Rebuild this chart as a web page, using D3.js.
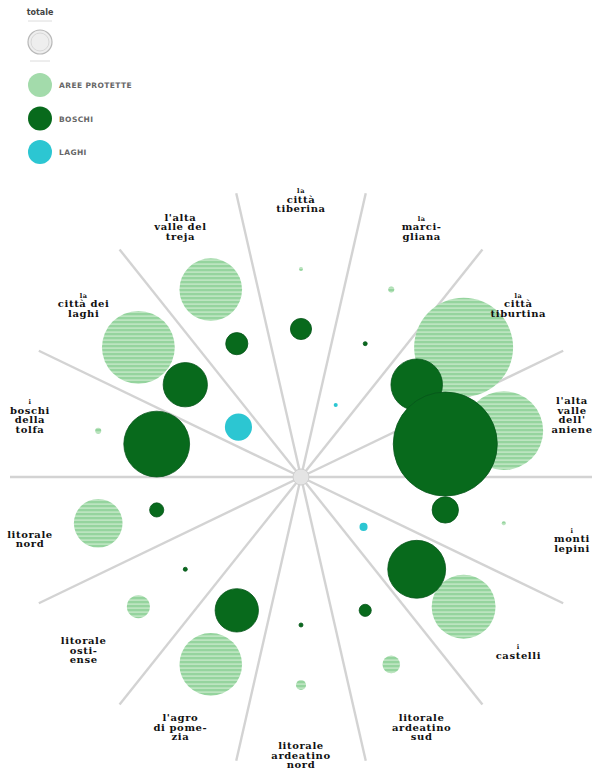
<!DOCTYPE html>
<html>
<head>
<meta charset="utf-8">
<script src="https://cdn.jsdelivr.net/npm/d3@7"></script>
<style>
  body { margin: 0; background: #fff; }
  svg { display: block; }
</style>
</head>
<body>
<svg id="chart"></svg>
<script>
// zones of the Rome metropolitan area, clockwise from the top
const zones = [
    "la città tiberina", "la marcigliana", "la città tiburtina", "l'alta valle dell'aniene",
    "i monti lepini", "i castelli", "litorale ardeatino sud", "litorale ardeatino nord",
    "l'agro di pomezia", "litorale ostiense", "litorale nord", "i boschi della tolfa",
    "la città dei laghi", "l'alta valle del treja"
];
// label text broken in lines as in the print
const zoneLabels = [
    ["la", "città", "tiberina"], ["la", "marci-", "gliana"], ["la", "città", "tiburtina"],
    ["l'alta", "valle", "dell'", "aniene"], ["i", "monti", "lepini"], ["i", "castelli"],
    ["litorale", "ardeatino", "sud"], ["litorale", "ardeatino", "nord"], ["l'agro", "di pome-", "zia"],
    ["litorale", "osti-", "ense"], ["litorale", "nord"], ["i", "boschi", "della", "tolfa"],
    ["la", "città dei", "laghi"], ["l'alta", "valle del", "treja"]
];
// surfaces (hectares), same order as zones
const areeProtette = [40, 90, 24000, 15200, 40, 10000, 760, 250, 9600, 1300, 5800, 90, 13000, 9600];
const boschi = [1100, 40, 6500, 26500, 1700, 8200, 360, 40, 4600, 40, 490, 10600, 4800, 1200];
const laghi = [0, 40, 0, 0, 0, 160, 0, 0, 0, 0, 0, 0, 1800, 0];

const types = ["aree protette", "boschi", "laghi"];
const legendLabels = ["AREE PROTETTE", "BOSCHI", "LAGHI"];

const width = 610;
const height = 769;
const cx = 301;
const cy = 477;

const svg = d3.select("#chart")
    .attr("width", width)
    .attr("height", height);

// stripes for the protected areas
const pattern = svg.append("defs").append("pattern")
    .attr("id", "stripes")
    .attr("patternUnits", "userSpaceOnUse")
    .attr("width", 8)
    .attr("height", 4);
pattern.append("rect").attr("width", 8).attr("height", 4).attr("fill", "#95d49e");
pattern.append("rect").attr("y", 2.4).attr("width", 8).attr("height", 1.4).attr("fill", "#c6e9c8");

const fillColor = d3.scaleOrdinal()
    .domain(types)
    .range(["url(#stripes)", "#086a1c", "#2cc6d2"]);
const legendColor = d3.scaleOrdinal()
    .domain(types)
    .range(["#a3dbab", "#086a1c", "#2cc6d2"]);

// angular scale: one band per zone, band centred on its zone
const step = 2 * Math.PI / zones.length;
const angle = d3.scaleBand()
    .domain(zones)
    .range([-step / 2, 2 * Math.PI - step / 2]);
// ring of each surface type
const ring = d3.scaleOrdinal()
    .domain(["laghi", "boschi", "aree protette"])
    .range([80, 148, 208]);

const allValues = areeProtette.concat(boschi, laghi);
const rscale = d3.scaleSqrt()
    .domain([0, d3.max(allValues)])
    .range([0, 52]);

const g = svg.append("g").attr("transform", `translate(${cx},${cy})`);

// radial separators
g.append("g").selectAll("line")
    .data(zones)
    .join("line")
    .attr("x1", 0).attr("y1", 0)
    .attr("x2", (d) => 291 * Math.sin(angle(d)))
    .attr("y2", (d) => -291 * Math.cos(angle(d)))
    .attr("stroke", "#d3d3d3")
    .attr("stroke-width", 2.4);

g.append("circle")
    .attr("r", 8)
    .attr("fill", "#e4e4e4")
    .attr("stroke", "#cfcfcf");

// bubbles
const series = [
    { type: "aree protette", values: areeProtette },
    { type: "boschi", values: boschi },
    { type: "laghi", values: laghi }
];
const bubbles = series.flatMap((s) => s.values.map((v, i) => ({ zone: zones[i], type: s.type, value: v })))
    .filter((d) => d.value > 0);

const mid = (z) => angle(z) + angle.bandwidth() / 2;

g.append("g").selectAll("circle")
    .data(bubbles)
    .join("circle")
    .attr("cx", (d) => ring(d.type) * Math.sin(mid(d.zone)))
    .attr("cy", (d) => -ring(d.type) * Math.cos(mid(d.zone)))
    .attr("r", (d) => rscale(d.value))
    .attr("fill", (d) => fillColor(d.type))
    .attr("stroke", (d) => d.type === "boschi" ? "#06561a" : "none")
    .attr("stroke-width", 0.8);

// zone labels
const lh = 9.5;
const labels = g.append("g").selectAll("text")
    .data(zones)
    .join("text")
    .attr("transform", (d) => `translate(${278 * Math.sin(mid(d))},${-278 * Math.cos(mid(d))})`)
    .attr("text-anchor", "middle")
    .attr("font-family", "'DejaVu Serif', serif")
    .attr("font-weight", "bold")
    .attr("fill", "#111");

labels.selectAll("tspan")
    .data((d, i) => zoneLabels[i].map((t, j, arr) => ({ t, j, n: arr.length })))
    .join("tspan")
    .attr("x", 0)
    .attr("y", (d) => (d.j - (d.n - 1) / 2) * lh + 3.5)
    .attr("font-size", (d) => (d.j === 0 && d.t.length <= 2) ? 6.5 : 10)
    .attr("letter-spacing", 0.6)
    .text((d) => d.t);

// legend
const legend = svg.append("g");
legend.append("text")
    .attr("x", 40).attr("y", 15)
    .attr("text-anchor", "middle")
    .attr("font-family", "'DejaVu Sans', sans-serif")
    .attr("font-size", 8)
    .attr("font-weight", "bold")
    .attr("fill", "#444")
    .text("totale");
legend.append("line")
    .attr("x1", 28).attr("x2", 52).attr("y1", 21).attr("y2", 21)
    .attr("stroke", "#dcdcdc");
legend.append("circle")
    .attr("cx", 40).attr("cy", 42).attr("r", 12)
    .attr("fill", "#eeeeee")
    .attr("stroke", "#b8b8b8")
    .attr("stroke-width", 1.2);
legend.append("circle")
    .attr("cx", 40).attr("cy", 42).attr("r", 9)
    .attr("fill", "none")
    .attr("stroke", "#d8d8d8");
legend.append("line")
    .attr("x1", 30).attr("x2", 50).attr("y1", 61).attr("y2", 61)
    .attr("stroke", "#dcdcdc");

const items = legend.selectAll("g.item")
    .data(types)
    .join("g")
    .attr("class", "item")
    .attr("transform", (d, i) => `translate(40,${85 + i * 33.5})`);
items.append("circle")
    .attr("r", 12)
    .attr("fill", (d) => legendColor(d));
items.append("text")
    .attr("x", 19).attr("y", 3)
    .attr("font-family", "'DejaVu Sans', sans-serif")
    .attr("font-size", 7.5)
    .attr("font-weight", "bold")
    .attr("letter-spacing", 0.4)
    .attr("fill", "#666")
    .text((d, i) => legendLabels[i]);
</script>
</body>
</html>
